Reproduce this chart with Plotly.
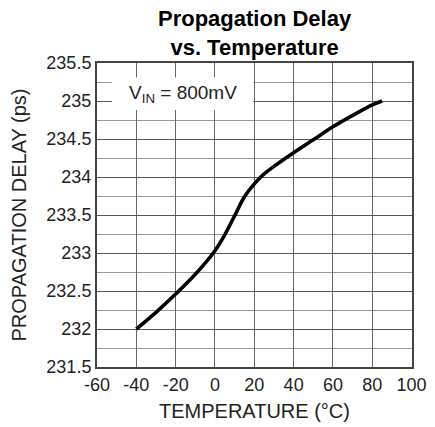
import plotly.graph_objects as go

temperature = [-40, -30, -20, -10, 0, 5, 10, 15, 20, 25, 30, 40, 50, 60, 70, 80, 85]
delay_ps = [232.0, 232.22, 232.46, 232.72, 233.03, 233.24, 233.49, 233.74, 233.91,
            234.04, 234.14, 234.32, 234.49, 234.66, 234.81, 234.95, 235.0]

x_ticks = [-60, -40, -20, 0, 20, 40, 60, 80, 100]
x_tick_labels = ["-60", "-40", "-20", "0", "20", "40", "60", "80", "100"]
y_ticks = [231.5, 232, 232.5, 233, 233.5, 234, 234.5, 235, 235.5]
y_tick_labels = ["231.5", "232", "232.5", "233", "233.5", "234", "234.5", "235", "235.5"]

x_range = [-60, 100.2]
y_range = [231.5, 235.5]
note_box_x = [-52.4, 19.5]
note_box_y = [234.88, 235.31]

FONT = "Liberation Sans, Arial, sans-serif"
TXT = "#222222"

fig = go.Figure()
fig.add_trace(go.Scatter(
    x=temperature, y=delay_ps, mode="lines",
    line=dict(color="black", width=3.6, shape="spline", smoothing=1.0),
    showlegend=False, hoverinfo="skip",
))

fig.add_shape(type="rect", xref="x", yref="y",
              x0=note_box_x[0], x1=note_box_x[1], y0=note_box_y[0], y1=note_box_y[1],
              fillcolor="white", line=dict(width=0), layer="above")
fig.add_annotation(x=(note_box_x[0] + note_box_x[1]) / 2, y=(note_box_y[0] + note_box_y[1]) / 2,
                   xref="x", yref="y", text="V<sub>IN</sub> = 800mV", showarrow=False,
                   font=dict(family=FONT, size=19, color=TXT))

fig.add_annotation(x=0.5, y=1, xref="paper", yref="paper", xanchor="center", yanchor="bottom",
                   yshift=1, showarrow=False,
                   text="<b>Propagation Delay<br>vs. Temperature</b>",
                   font=dict(family=FONT, size=22, color="black"))

# the page body adds an 8px offset; margins are set so the plot area lands where the reference has it
fig.update_layout(
    width=427, height=419,
    margin=dict(l=89, r=23, t=55, b=60),
    paper_bgcolor="white", plot_bgcolor="white",
    font=dict(family=FONT, color=TXT),
)
fig.update_xaxes(
    range=x_range, tickvals=x_ticks, ticktext=x_tick_labels, automargin=False,
    ticklabeloverflow="allow",
    showgrid=True, gridcolor="#666666", gridwidth=1,
    zeroline=False, showline=True, mirror=True, linecolor="#444444", linewidth=2,
    ticks="", tickfont=dict(size=18, color=TXT),
    title=dict(text="TEMPERATURE (°C)", font=dict(size=20, color=TXT), standoff=10),
)
fig.update_yaxes(
    range=y_range, tickvals=y_ticks, ticktext=y_tick_labels, automargin=False,
    ticklabeloverflow="allow",
    showgrid=True, gridcolor="#555555", gridwidth=1,
    minor=dict(dtick=0.25, tick0=231.5, showgrid=True, gridcolor="#999999", gridwidth=1),
    zeroline=False, showline=True, mirror=True, linecolor="#444444", linewidth=2,
    ticks="", tickfont=dict(size=18, color=TXT),
    title=dict(text="PROPAGATION DELAY (ps)", font=dict(size=20, color=TXT), standoff=14),
)

fig.write_html("out.html")
